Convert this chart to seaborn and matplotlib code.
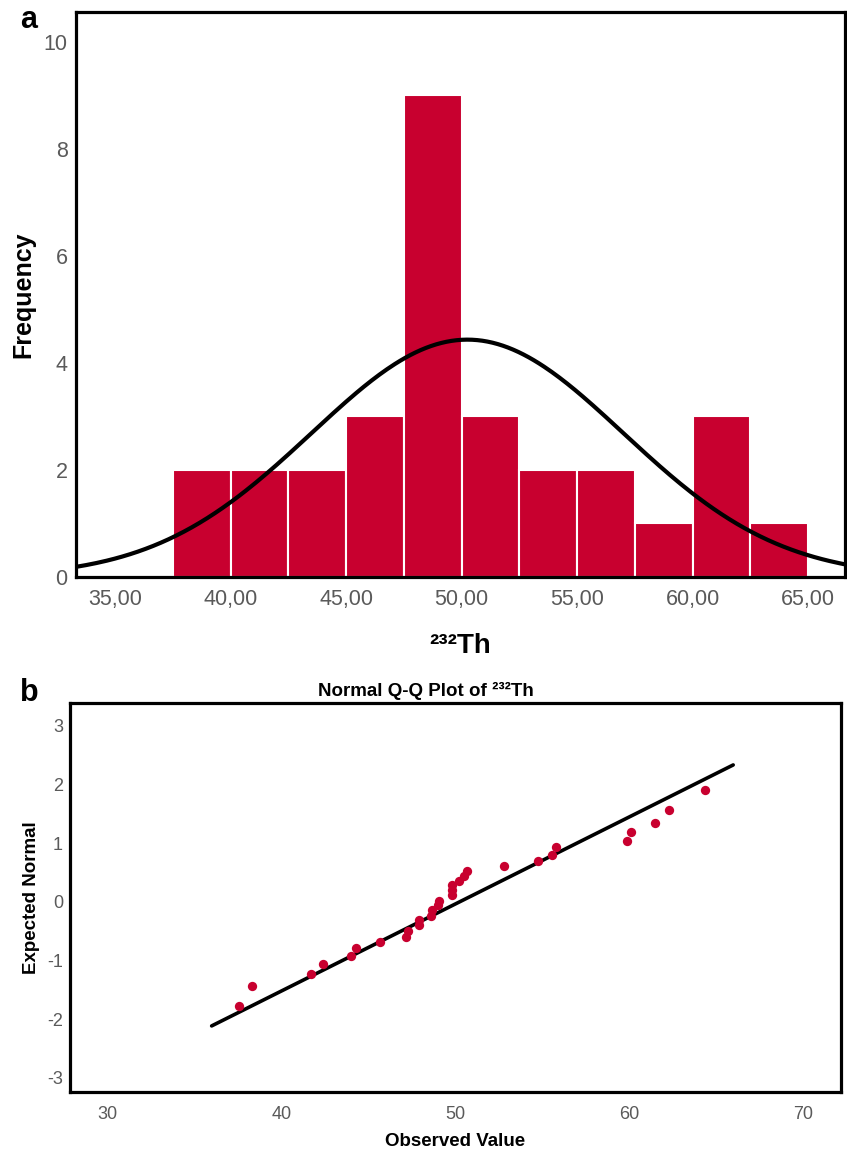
import numpy as np
import pandas as pd
import matplotlib
matplotlib.use("Agg")
import matplotlib.pyplot as plt
import seaborn as sns

th_observed = [37.6, 38.3, 41.7, 42.4, 44.0, 44.3, 45.7, 47.2, 47.3, 47.9,
               47.9, 48.6, 48.7, 49.0, 49.1, 49.8, 49.8, 49.8, 50.2, 50.5,
               50.7, 52.8, 54.8, 55.6, 55.8, 59.9, 60.1, 61.5, 62.3, 64.4]
expected_normal = [-1.77, -1.44, -1.23, -1.06, -0.92, -0.79, -0.69, -0.59, -0.49, -0.40,
                   -0.31, -0.24, -0.14, -0.06, 0.02, 0.12, 0.20, 0.28, 0.35, 0.44,
                   0.52, 0.62, 0.70, 0.80, 0.93, 1.04, 1.19, 1.35, 1.57, 1.90]

hist_ticks = [35, 40, 45, 50, 55, 60, 65]
hist_tick_labels = ["35,00", "40,00", "45,00", "50,00", "55,00", "60,00", "65,00"]
freq_ticks = [0, 2, 4, 6, 8, 10]
qq_xticks = [30, 40, 50, 60, 70]
qq_yticks = [-3, -2, -1, 0, 1, 2, 3]
qq_line_x = [36, 66]

RED = "#C8002F"
GRAY = "#5a5a5a"

sns.set_style("white")
plt.rcParams["font.family"] = ["Liberation Sans", "DejaVu Sans"]
plt.rcParams["axes.unicode_minus"] = False
plt.rcParams["text.color"] = "black"
plt.rcParams["axes.labelcolor"] = "black"

df = pd.DataFrame({"th": th_observed, "z": expected_normal})
mean = df["th"].mean()
sd = df["th"].std()
n = len(df)
bin_w = 2.5

fig = plt.figure(figsize=(8.47, 11.53), dpi=100)

# ---- a: histogram with normal curve
ax1 = fig.add_axes([0.0897, 0.4996, 0.9079, 0.4900])
sns.histplot(data=df, x="th", bins=np.arange(37.5, 65.01, bin_w), ax=ax1,
             color=RED, alpha=1, edgecolor="white", linewidth=1.5)
xlim1 = (33.31, 66.6)
curve = pd.DataFrame({"x": np.linspace(*xlim1, 300)})
curve["y"] = n * bin_w / (sd * np.sqrt(2 * np.pi)) * np.exp(-0.5 * ((curve["x"] - mean) / sd) ** 2)
sns.lineplot(data=curve, x="x", y="y", ax=ax1, color="black", linewidth=3)
ax1.set_xlim(*xlim1)
ax1.set_ylim(0, 10.56)
ax1.set_xticks(hist_ticks)
ax1.set_xticklabels(hist_tick_labels)
ax1.set_yticks(freq_ticks)
ax1.tick_params(axis="x", length=0, pad=9, labelsize=15.5, labelcolor=GRAY)
ax1.tick_params(axis="y", length=0, pad=6, labelsize=15.5, labelcolor=GRAY)
ax1.set_xlabel("²³²Th", fontsize=20, fontweight="bold", labelpad=16)
ax1.set_ylabel("Frequency", fontsize=18, fontweight="bold", labelpad=6)
for s in ax1.spines.values():
    s.set_color("black")
    s.set_linewidth(2.3)

# ---- b: normal Q-Q plot
ax2 = fig.add_axes([0.0826, 0.0529, 0.9103, 0.3374])
line = pd.DataFrame({"x": qq_line_x})
line["y"] = (line["x"] - mean) / sd
sns.lineplot(data=line, x="x", y="y", ax=ax2, color="black", linewidth=2.6)
sns.scatterplot(data=df, x="th", y="z", ax=ax2, color=RED, s=45, linewidth=0, zorder=3)
ax2.set_xlim(27.85, 72.2)
ax2.set_ylim(-3.24, 3.39)
ax2.set_xticks(qq_xticks)
ax2.set_yticks(qq_yticks)
ax2.tick_params(axis="x", length=0, pad=10, labelsize=13, labelcolor=GRAY)
ax2.tick_params(axis="y", length=0, pad=5, labelsize=13, labelcolor=GRAY)
ax2.set_xlabel("Observed Value", fontsize=13.5, fontweight="bold", labelpad=7)
ax2.set_ylabel("Expected Normal", fontsize=13.5, fontweight="bold", labelpad=5)
for s in ax2.spines.values():
    s.set_color("black")
    s.set_linewidth(2.3)

fig.text(426 / 847, 1 - 691 / 1153, "Normal Q-Q Plot of ²³²Th", ha="center",
         va="center", fontsize=13.5, fontweight="bold")
fig.text(20 / 847, 1 - 20 / 1153, "a", ha="left", va="center", fontsize=22, fontweight="bold")
fig.text(20 / 847, 1 - 693 / 1153, "b", ha="left", va="center", fontsize=22, fontweight="bold")

fig.savefig("out.png", dpi=100)
